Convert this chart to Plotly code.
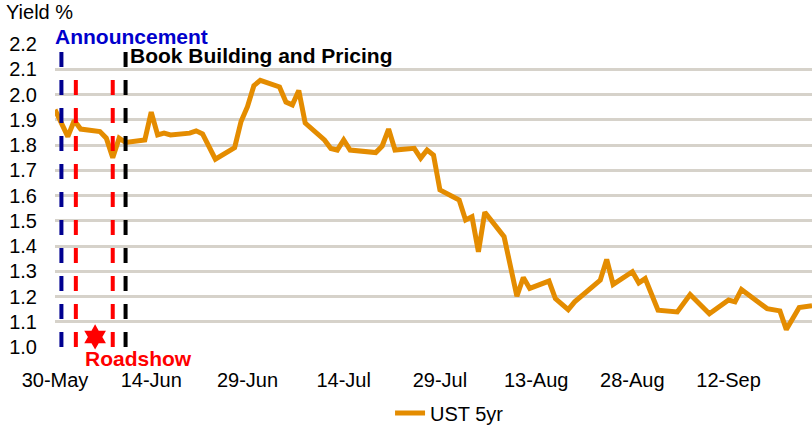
import plotly.graph_objects as go

# ---- data ----
dates = [
    "2011-05-30", "2011-06-01", "2011-06-02", "2011-06-03", "2011-06-06", "2011-06-07",
    "2011-06-08", "2011-06-09", "2011-06-10", "2011-06-13", "2011-06-14", "2011-06-15",
    "2011-06-16", "2011-06-17", "2011-06-20", "2011-06-21", "2011-06-22", "2011-06-24",
    "2011-06-27", "2011-06-28", "2011-06-29", "2011-06-30", "2011-07-01", "2011-07-04",
    "2011-07-05", "2011-07-06", "2011-07-07", "2011-07-08", "2011-07-11", "2011-07-12",
    "2011-07-13", "2011-07-14", "2011-07-15", "2011-07-19", "2011-07-20", "2011-07-21",
    "2011-07-22", "2011-07-25", "2011-07-26", "2011-07-27", "2011-07-28", "2011-07-29",
    "2011-08-01", "2011-08-02", "2011-08-03", "2011-08-04", "2011-08-05", "2011-08-08",
    "2011-08-10", "2011-08-11", "2011-08-12", "2011-08-15", "2011-08-16", "2011-08-18",
    "2011-08-19", "2011-08-23", "2011-08-24", "2011-08-25", "2011-08-28", "2011-08-29",
    "2011-08-30", "2011-08-31", "2011-09-01", "2011-09-04", "2011-09-06", "2011-09-09",
    "2011-09-12", "2011-09-13", "2011-09-14", "2011-09-18", "2011-09-20", "2011-09-21",
    "2011-09-23", "2011-09-25",
]
ust5y = [
    1.94, 1.833, 1.897, 1.863, 1.853, 1.827,
    1.75, 1.827, 1.81, 1.82, 1.93, 1.84,
    1.847, 1.84, 1.847, 1.856, 1.844, 1.744,
    1.79, 1.893, 1.952, 2.035, 2.056, 2.03,
    1.97, 1.959, 2.016, 1.887, 1.82, 1.786,
    1.78, 1.82, 1.78, 1.77, 1.796, 1.863,
    1.78, 1.787, 1.748, 1.78, 1.76, 1.622,
    1.582, 1.503, 1.516, 1.377, 1.534, 1.437,
    1.201, 1.275, 1.232, 1.261, 1.192, 1.148,
    1.179, 1.265, 1.347, 1.248, 1.298, 1.254,
    1.271, 1.205, 1.146, 1.139, 1.208, 1.132,
    1.186, 1.179, 1.228, 1.152, 1.143, 1.069,
    1.156, 1.163,
]
series_name = "UST 5yr"

announce_date = "2011-05-31"
roadshow_dates = ["2011-06-02 06:00", "2011-06-08"]
pricing_date = "2011-06-10"
star_date = "2011-06-05 06:00"
star_value = 1.04

x_start = "2011-05-30"
x_end = "2011-09-25"
y_min, y_max = 1.0, 2.2
event_top_main = 2.17
event_top_roadshow = 2.062

ORANGE = "#E48C00"
NAVY = "#000090"
RED = "#FF0000"
FONT = "Liberation Sans, Arial, sans-serif"

fig = go.Figure()
fig.add_trace(go.Scatter(
    x=dates, y=ust5y, mode="lines", name=series_name,
    line=dict(color=ORANGE, width=5),
))
fig.add_trace(go.Scatter(
    x=[star_date], y=[star_value], mode="markers", showlegend=False,
    marker=dict(symbol="hexagram", size=19, color=RED, line=dict(width=0)),
    cliponaxis=False,
))

dash = "15px,13px"
for xd, col, top in [(announce_date, NAVY, event_top_main),
                     (roadshow_dates[0], RED, event_top_roadshow),
                     (roadshow_dates[1], RED, event_top_roadshow),
                     (pricing_date, "#000000", event_top_main)]:
    fig.add_shape(type="line", xref="x", yref="y", x0=xd, x1=xd, y0=y_min, y1=top,
                  line=dict(color=col, width=4, dash=dash), layer="above")

fig.add_annotation(x=x_start, y=1.026, xref="x", yref="paper", text="<b>Announcement</b>",
                   showarrow=False, xanchor="left", yanchor="middle", xshift=-2,
                   font=dict(family=FONT, size=21, color="#0000CC"))
fig.add_annotation(x=pricing_date, y=0.962, xref="x", yref="paper", text="<b>Book Building and Pricing</b>",
                   showarrow=False, xanchor="left", yanchor="middle", xshift=2,
                   font=dict(family=FONT, size=21, color="#000000"))
fig.add_annotation(x="2011-06-12", y=-0.038, xref="x", yref="paper", text="<b>Roadshow</b>",
                   showarrow=False, xanchor="center", yanchor="middle",
                   font=dict(family=FONT, size=21, color=RED))
fig.add_annotation(x=-0.0674, y=1.104, xref="paper", yref="paper", text="Yield %",
                   showarrow=False, xanchor="left", yanchor="middle",
                   font=dict(family=FONT, size=20, color="#000000"))

fig.update_xaxes(
    type="date", range=[x_start, x_end], automargin=False,
    tick0=x_start, dtick=15 * 86400000, tickformat="%d-%b",
    showgrid=False, zeroline=False, showline=False, ticks="",
    ticklabelstandoff=19,
    tickfont=dict(family=FONT, size=20, color="#000000"),
)
fig.update_yaxes(
    range=[y_min, y_max], dtick=0.1, tick0=1.0, tickformat=".1f", automargin=False,
    showgrid=True, gridcolor="#D6D2CA", gridwidth=3,
    zeroline=False, showline=False, ticks="",
    ticklabelstandoff=17,
    tickfont=dict(family=FONT, size=20, color="#000000"),
)
fig.update_layout(
    width=812, height=425,
    margin=dict(l=55, r=0, t=44, b=78, autoexpand=False),
    paper_bgcolor="white", plot_bgcolor="white",
    showlegend=True,
    legend=dict(orientation="h", x=0.4426, xanchor="left", y=-0.218, yanchor="middle",
                font=dict(family=FONT, size=20, color="#000000"),
                bgcolor="rgba(0,0,0,0)"),
)
fig.write_html("out.html", config={"displayModeBar": False},
               post_script="document.body.style.margin='0';")
